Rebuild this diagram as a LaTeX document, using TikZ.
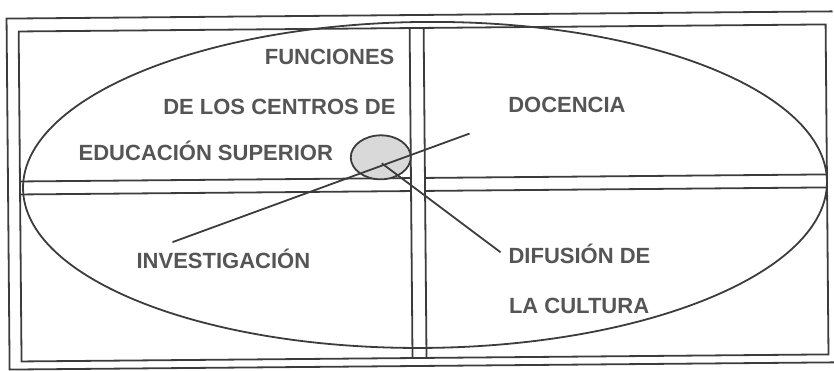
\documentclass[tikz,border=0pt]{standalone}
\usepackage{fontspec}
\setmainfont{Liberation Sans}
\usepackage{tikz}
\usetikzlibrary{positioning}
\usetikzlibrary{calc}
\definecolor{inkgray}{HTML}{3C3C3C}
\definecolor{txtgray}{HTML}{555555}

\begin{document}
\begin{tikzpicture}[x=1pt,y=1pt,line width=1.8pt,draw=inkgray]
\tikzstyle{lbl}=[anchor=base west,inner sep=0pt,text=txtgray,font=\fontsize{22}{24}\selectfont\bfseries]
\tikzstyle{frame}=[draw=inkgray,line width=1.8pt]
\useasboundingbox (0,0) rectangle (834,370);

\begin{scope}[rotate around={0.5:(417,185)}]
% outer frame, open on the right
\draw[frame] (834,355) -- (8,355) -- (8,4) -- (834,4);
% inner frame and the cross
\draw[frame] (20,12) rectangle (827,342);
\draw[frame] (411,12) -- (411,342);
\draw[frame] (425,12) -- (425,342);
\draw[frame] (20,192) -- (411,192);
\draw[frame] (20,179) -- (411,179);
\draw[frame] (425,192) -- (827,192);
\draw[frame] (425,179) -- (827,179);
% big ellipse
\draw[frame] (425,185) ellipse (402 and 163);

\node[lbl] (func) at (265,307) {FUNCIONES};
\node[lbl] (centros) at (163,258) {DE LOS CENTROS DE};
\node[lbl] (edsup) at (78,212) {EDUCACIÓN SUPERIOR};
\node[lbl] (doc) at (508,257) {DOCENCIA};
\node[lbl] (inv) at (135,104) {INVESTIGACIÓN};
\node[lbl] (dif) at (507,106) {DIFUSIÓN DE};
\node[lbl] (cult) at (507,56) {LA CULTURA};

% centre mark
\draw[frame,fill=gray!30] (381,213) ellipse (30 and 22);
\coordinate (c1) at (470,236);
\coordinate (c2) at (172,130);
\coordinate (c3) at (382,207);
\coordinate (c4) at (500,117);
\draw[frame] (c1) -- (c2);
\draw[frame] (c3) -- (c4);
\end{scope}
\end{tikzpicture}
\end{document}
